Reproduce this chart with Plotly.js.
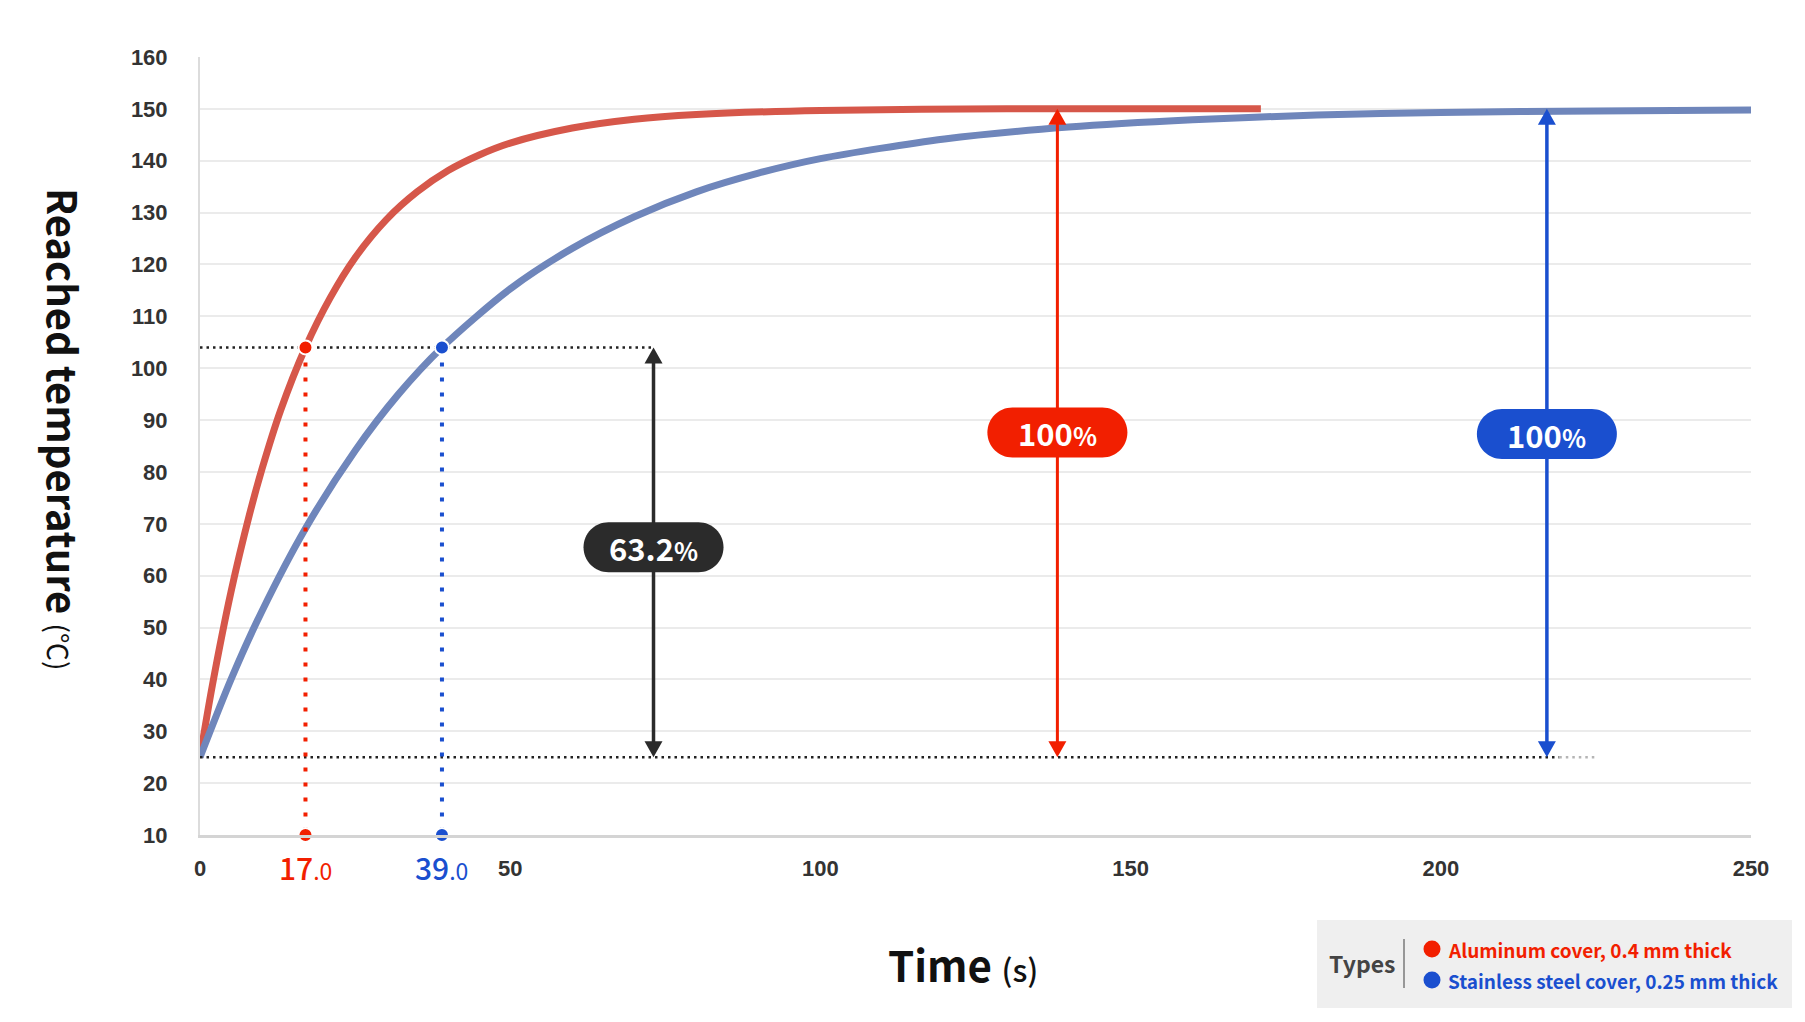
<!DOCTYPE html>
<html>
<head>
<meta charset="utf-8">
<script src="https://cdn.plot.ly/plotly-3.0.1.min.js"></script>
<style>
body { margin: 0; background: #fff; }
#chart { width: 1805px; height: 1022px; }
</style>
</head>
<body>
<div id="chart"></div>
<script>
// heating curves: time in s, temperature in deg C
const alu_time = [0, 2, 5, 8, 10, 13, 17, 21, 25, 30, 35, 40, 45, 50, 60, 70, 80, 100, 130, 171];
const alu_temp = [25, 38.9, 56.9, 71.9, 80.6, 91.9, 104, 113.6, 121.3, 128.6, 134, 138.1, 141.1, 143.4, 146.3, 148, 148.9, 149.7, 150, 150];
const steel_time = [0, 5, 10, 17, 25, 32, 39, 50, 60, 70, 80, 90, 100, 120, 140, 160, 180, 200, 225, 250];
const steel_temp = [25, 40, 53.2, 69.1, 84.1, 95, 104, 115.3, 123.1, 129.2, 134, 137.6, 140.4, 144.2, 146.5, 147.9, 148.8, 149.3, 149.6, 149.8];

const start_temp = 25;
const final_temp = 150;
const tau_temp = 104;            // 63.2% of the rise
const tau_time = [17, 39];       // aluminium, stainless
const tau_text = ["17", "39"];
const guide_end = 225;
const arrow_time = [73.1, 138.2, 217.1];
const pill_temp = [65.5, 87.6, 87.3];
const pill_text = ["63.2", "100", "100"];
const x_ticks = [0, 50, 100, 150, 200, 250];
const y_ticks = [10, 20, 30, 40, 50, 60, 70, 80, 90, 100, 110, 120, 130, 140, 150, 160];
const legend_names = ["Aluminum cover, 0.4 mm thick", "Stainless steel cover, 0.25 mm thick"];

const red_curve = "#d6574a";
const blue_curve = "#6f86bb";
const red_mark = "#f21f00";
const blue_mark = "#1a4fcf";
const dark = "#2b2b2b";
const mark_colors = [red_mark, blue_mark];
const arrow_colors = [dark, red_mark, blue_mark];
const cjk = "Noto Sans CJK KR, Noto Sans, sans-serif";

// plot box in page pixels, used to place the things that live outside the axes
const box_l = 200, box_r = 1751, box_t = 57, box_b = 835;
function paper_x(px) { return (px - box_l) / (box_r - box_l); }
function paper_y(py) { return (box_b - py) / (box_b - box_t); }

function pill_path(w, h)
{
    const r = h / 2, k = r * 0.5523, s = w / 2 - r;
    return `M${-s},${-r} L${s},${-r} C${s + k},${-r} ${w / 2},${-k} ${w / 2},0 ` +
           `C${w / 2},${k} ${s + k},${r} ${s},${r} L${-s},${r} ` +
           `C${-s - k},${r} ${-w / 2},${k} ${-w / 2},0 C${-w / 2},${-k} ${-s - k},${-r} ${-s},${-r} Z`;
}

function arrow_shapes(x, y0, y1, color, width)
{
    const head = {type: "path", xref: "x", yref: "y", xsizemode: "pixel", ysizemode: "pixel",
                  xanchor: x, fillcolor: color, line: {width: 0}, layer: "above"};
    return [
        {type: "line", xref: "x", yref: "y", x0: x, x1: x, y0: y0 + 1, y1: y1 - 1,
         line: {color: color, width: width}, layer: "above"},
        Object.assign({}, head, {yanchor: y1, path: "M0,0 L9,-16 L-9,-16 Z"}),
        Object.assign({}, head, {yanchor: y0, path: "M0,0 L9,16 L-9,16 Z"})
    ];
}

function build_traces()
{
    const traces = [
        {x: alu_time, y: alu_temp, mode: "lines", line: {color: red_curve, width: 7, shape: "spline", smoothing: 0.8}},
        {x: steel_time, y: steel_temp, mode: "lines", line: {color: blue_curve, width: 7, shape: "spline", smoothing: 0.8}},
        // 63.2% and start level guides
        {x: [0, arrow_time[0]], y: [tau_temp, tau_temp], mode: "lines", line: {color: "#222", width: 2.5, dash: "2.5px,4px"}},
        {x: [0, arrow_time[2] + 2], y: [start_temp, start_temp], mode: "lines", line: {color: "#222", width: 2.5, dash: "2.5px,4px"}},
        {x: [arrow_time[2] + 2, guide_end], y: [start_temp, start_temp], mode: "lines", line: {color: "#b5b5b5", width: 2.5, dash: "2.5px,4px"}}
    ];
    tau_time.forEach((t, i) => {
        traces.push({x: [t, t], y: [tau_temp, y_ticks[0]], mode: "lines",
                     line: {color: mark_colors[i], width: 4, dash: "4px,11px"}});
    });
    tau_time.forEach((t, i) => {
        traces.push({x: [t, t], y: [tau_temp, y_ticks[0]], mode: "markers", cliponaxis: false,
                     marker: {color: mark_colors[i], size: 14, line: {color: "#fff", width: 2}}});
    });
    traces.forEach((tr) => { tr.hoverinfo = "skip"; tr.showlegend = false; });
    return traces;
}

function build_shapes()
{
    let shapes = [];
    shapes = shapes.concat(arrow_shapes(arrow_time[0], start_temp, tau_temp, dark, 3.5));
    shapes = shapes.concat(arrow_shapes(arrow_time[1], start_temp, final_temp, red_mark, 3));
    shapes = shapes.concat(arrow_shapes(arrow_time[2], start_temp, final_temp, blue_mark, 3.5));
    arrow_time.forEach((t, i) => {
        shapes.push({type: "path", xref: "x", yref: "y", xsizemode: "pixel", ysizemode: "pixel",
                     xanchor: t, yanchor: pill_temp[i], path: pill_path(140, 50),
                     fillcolor: arrow_colors[i], line: {width: 0}, layer: "above"});
    });
    // legend panel
    shapes.push({type: "rect", xref: "paper", yref: "paper", x0: paper_x(1317), x1: paper_x(1792),
                 y0: paper_y(920), y1: paper_y(1008), fillcolor: "#efefef", line: {width: 0}, layer: "above"});
    shapes.push({type: "line", xref: "paper", yref: "paper", x0: paper_x(1404), x1: paper_x(1404),
                 y0: paper_y(939), y1: paper_y(988), line: {color: "#7a7a7a", width: 1.5}, layer: "above"});
    [949, 980].forEach((py, i) => {
        shapes.push({type: "circle", xref: "paper", yref: "paper", xsizemode: "pixel", ysizemode: "pixel",
                     xanchor: paper_x(1432), yanchor: paper_y(py), x0: -8.5, x1: 8.5, y0: -8.5, y1: 8.5,
                     fillcolor: mark_colors[i], line: {width: 0}, layer: "above"});
    });
    return shapes;
}

function build_annotations()
{
    const notes = [];
    arrow_time.forEach((t, i) => {
        notes.push({x: t, y: pill_temp[i], xref: "x", yref: "y", showarrow: false,
                    text: pill_text[i] + '<span style="font-size:25px">%</span>',
                    font: {family: cjk, size: 31, color: "#fff", weight: 700}});
    });
    tau_time.forEach((t, i) => {
        notes.push({x: t, y: paper_y(867), xref: "x", yref: "paper", showarrow: false,
                    xanchor: "center", yanchor: "middle",
                    text: tau_text[i] + '<span style="font-size:23px;font-weight:400">.0</span>',
                    font: {family: cjk, size: 30, color: mark_colors[i], weight: 500}});
    });
    notes.push({x: paper_x(64), y: paper_y(429), xref: "paper", yref: "paper", showarrow: false,
                textangle: 90, xanchor: "center", yanchor: "middle",
                text: 'Reached temperature <span style="font-size:28px;font-weight:400">(℃)</span>',
                font: {family: cjk, size: 40, color: "#111", weight: 700}});
    notes.push({x: paper_x(963), y: paper_y(963), xref: "paper", yref: "paper", showarrow: false,
                xanchor: "center", yanchor: "middle",
                text: 'Time <span style="font-size:31px;font-weight:500">(s)</span>',
                font: {family: cjk, size: 42, color: "#111", weight: 700}});
    notes.push({x: paper_x(1362), y: paper_y(963), xref: "paper", yref: "paper", showarrow: false,
                xanchor: "center", yanchor: "middle", text: "Types",
                font: {family: cjk, size: 23, color: "#444", weight: 700}});
    [949, 980].forEach((py, i) => {
        notes.push({x: paper_x(1446), y: paper_y(py), xref: "paper", yref: "paper", showarrow: false,
                    xanchor: "left", yanchor: "middle", text: legend_names[i],
                    font: {family: cjk, size: 19, color: mark_colors[i], weight: 700}});
    });
    return notes;
}

function chart_init()
{
    const chart_div = document.getElementById("chart");
    const tick_font = {family: "Liberation Sans, Arial, sans-serif", size: 22, color: "#333", weight: 700};
    const layout = {
        width: 1805, height: 1022,
        margin: {l: box_l, r: 1805 - box_r, t: box_t, b: 1022 - box_b},
        paper_bgcolor: "#fff", plot_bgcolor: "#fff",
        showlegend: false,
        xaxis: {range: [0, 250], tickvals: x_ticks, showgrid: false, zeroline: false,
                showline: true, linecolor: "#d4d4d4", linewidth: 2.5, ticks: "",
                tickfont: tick_font, ticklabelstandoff: 12},
        yaxis: {range: [10, 160], tickvals: y_ticks, showgrid: true, gridcolor: "#ebebeb", gridwidth: 2,
                zeroline: false, showline: true, linecolor: "#dcdcdc", linewidth: 2, ticks: "",
                tickfont: tick_font, ticklabelstandoff: 26},
        shapes: build_shapes(),
        annotations: build_annotations()
    };
    Plotly.newPlot(chart_div, build_traces(), layout, {displayModeBar: false, staticPlot: true});
}

chart_init();
</script>
</body>
</html>
